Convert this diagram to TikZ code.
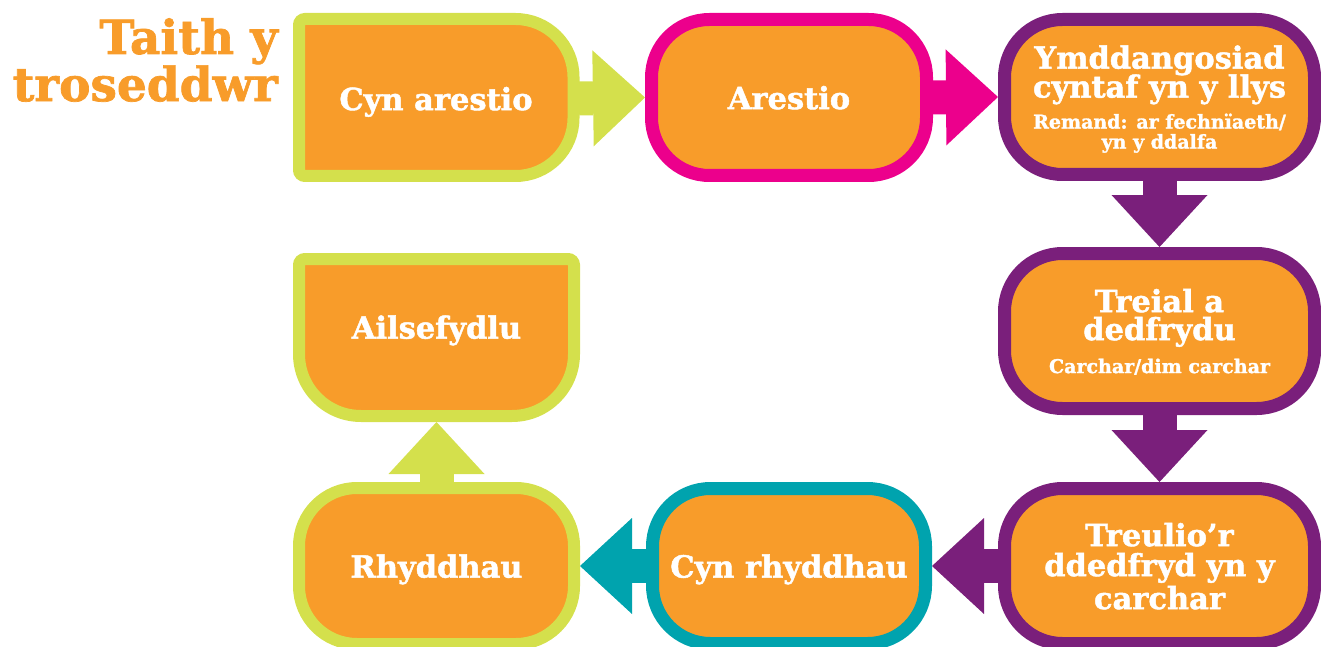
\documentclass[tikz,border=0pt]{standalone}
\usepackage{fontspec}
\setmainfont{DejaVu Serif}[BoldFont={DejaVu Serif Bold},BoldFeatures={FakeBold=1.5}]
\usetikzlibrary{arrows.meta}
\definecolor{boxorange}{HTML}{F89C2A}
\definecolor{stagelime}{HTML}{D4E04C}
\definecolor{stagepink}{HTML}{EC008C}
\definecolor{stagepurple}{HTML}{7A1F7B}
\definecolor{stageteal}{HTML}{00A3AE}
\newcommand{\subfont}{\fontsize{19}{21}\selectfont}
\tikzset{
 stagetext/.style={text=white,font=\bfseries\fontsize{30.5}{28}\selectfont,align=center,inner sep=0pt,text depth=0pt},
 stage/.style={stagetext,draw,fill=boxorange,line width=13pt,rounded corners=58pt},
 flow/.style={line width=34pt,-{Triangle[length=52pt,width=96pt,line width=0pt]}}
}
\begin{document}
\begin{tikzpicture}[x=1pt,y=-1pt]
 \useasboundingbox (0,0) rectangle (1321,647);
 % title
 \node[text=boxorange,font=\bfseries\fontsize{47}{43}\selectfont,align=right,inner sep=0pt,anchor=east] (title) at (278,60) {Taith y\\troseddwr};
 % boxes with square left corners
 \draw[stagelime,fill=boxorange,line width=12pt] (299,25) arc[start angle=180,end angle=270,radius=6] -- (515.5,19) arc[start angle=270,end angle=360,radius=58] -- (573.5,118) arc[start angle=0,end angle=90,radius=58] -- (305,176) arc[start angle=90,end angle=180,radius=6] -- cycle;
 \node[stagetext,minimum width=286pt,minimum height=169pt,outer sep=0pt] (prearrest) at (436,98.5) {Cyn arestio};
 \draw[stagelime,fill=boxorange,line width=12pt] (299,265) arc[start angle=180,end angle=270,radius=6] -- (568,259) arc[start angle=270,end angle=360,radius=6] -- (574,354) arc[start angle=0,end angle=90,radius=62] -- (361,416) arc[start angle=90,end angle=180,radius=62] -- cycle;
 \node[stagetext] (resettle) at (436.5,327) {Ailsefydlu};
 \coordinate (resettlebase) at (436.5,422);
 % rounded boxes
 \node[stage,draw=stagepink,minimum width=275pt,minimum height=156pt] (arrest) at (789,97.5) {Arestio};
 \node[stage,draw=stagepurple,minimum width=310pt,minimum height=155pt] (court) at (1159.5,97)
  {Ymddangosiad\\[-2pt]cyntaf yn y llys\\[3pt]{\subfont Remand: ar fechnïaeth/}\\[-8pt]{\subfont yn y ddalfa}};
 \node[stage,draw=stagepurple,minimum width=310pt,minimum height=155pt] (trial) at (1159.5,331)
  {Treial a\\dedfrydu\\[5pt]{\subfont Carchar/dim carchar}};
 \node[stage,draw=stagepurple,minimum width=310pt,minimum height=155pt] (serve) at (1159.5,566)
  {Treulio’r\\[2pt]ddedfryd yn y\\[2pt]carchar};
 \node[stage,draw=stageteal,minimum width=273pt,minimum height=155pt] (prerelease) at (789,566) {Cyn rhyddhau};
 \node[stage,draw=stagelime,line width=12pt,minimum width=275pt,minimum height=156pt] (release) at (436.5,566) {Rhyddhau};
 % arrows
 \draw[flow,stagelime] (prearrest.east) -- (arrest.west);
 \draw[flow,stagepink] (arrest.east) -- (court.west);
 \draw[flow,stagepurple] (court.south) -- (trial.north);
 \draw[flow,stagepurple] (trial.south) -- (serve.north);
 \draw[flow,stagepurple] (serve.west) -- (prerelease.east);
 \draw[flow,stageteal] (prerelease.west) -- (release.east);
 \draw[flow,stagelime] (release.north) -- (resettlebase);
\end{tikzpicture}
\end{document}
